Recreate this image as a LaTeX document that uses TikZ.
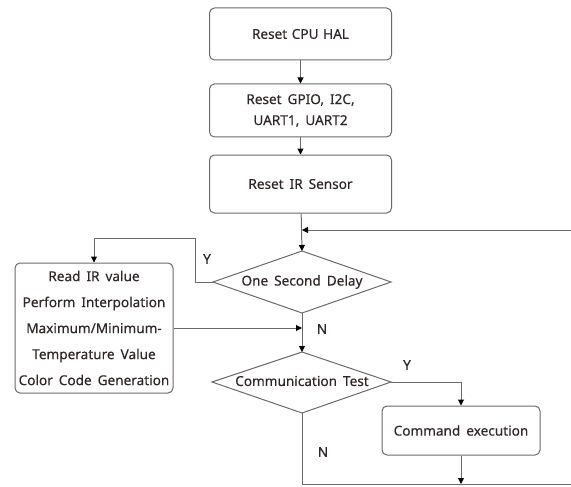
\documentclass[tikz,border=0pt]{standalone}
\usepackage{fontspec}
\setmainfont{Noto Sans}[WordSpace={1.3,0.5,0.3},FakeBold=0.3]
\usetikzlibrary{shapes.geometric,arrows.meta}
\definecolor{linegray}{HTML}{6A6A6A}
\definecolor{txt}{HTML}{302828}
\begin{document}
\begin{tikzpicture}[x=1pt,y=-1pt,
  every node/.style={text=txt,font=\fontsize{13.6}{16}\bfseries},
  procbox/.style={draw=linegray,line width=1pt,rounded corners=5pt,inner sep=0pt,align=center},
  decis/.style={draw=linegray,line width=1pt},
  conn/.style={draw=linegray,line width=1pt},
  arr/.style={conn,-{Triangle[length=6pt,width=6pt,color=black]}},
  lbl/.style={inner sep=0pt}]
\useasboundingbox (0,0) rectangle (571,487);
\fill[white] (0,0) rectangle (571,487);
\node[procbox,minimum width=182pt,minimum height=52pt] (b1) at (300.5,34) {Reset CPU HAL};
\node[procbox,minimum width=182pt,minimum height=53pt] (b2) at (300.5,110.5) {Reset GPIO, I2C,\\[5pt]UART1, UART2};
\node[procbox,minimum width=182pt,minimum height=58pt] (b3) at (300.5,184) {Reset IR Sensor};
\path[decis] (213,282) -- (302,251) -- (391,282) -- (302,313) -- cycle;
\coordinate (d1l) at (213,282); \coordinate (d1t) at (302,251); \coordinate (d1b) at (302,313); \coordinate (d1r) at (391,282);
\node[lbl] (d1) at (302,282) {One Second Delay};
\path[decis] (212,382) -- (302,352) -- (391,382) -- (302,413) -- cycle;
\coordinate (d2l) at (212,382); \coordinate (d2t) at (302,352); \coordinate (d2b) at (302,413); \coordinate (d2r) at (391,382);
\node[lbl] (d2) at (302,381) {Communication Test};
\node[procbox,minimum width=158pt,minimum height=130pt,font=\fontsize{13.6}{26}\bfseries] (lb) at (94,328) {Read IR value\\Perform Interpolation\\Maximum/Minimum-\\Temperature Value\\Color Code Generation};
\node[procbox,minimum width=158pt,minimum height=49pt] (ce) at (461,430.5) {Command execution};
\coordinate (m1) at (302,230);
\coordinate (rt) at (571,230);
\coordinate (m2) at (302,328);
\coordinate (bt) at (302,484);
\coordinate (br) at (571,484);
\coordinate (cb) at (461,484);
\draw[arr] (b1) -- (b2);
\draw[arr] (b2) -- (b3);
\draw[arr] (b3) -- (d1t);
\draw[arr] (rt) -- (m1);
\draw[arr] (d1l) -- (195,282) -- (195,238) -- (94,238) -- (lb.north);
\draw[arr] (lb.east |- m2) -- (m2);
\draw[arr] (d1b) -- (d2t);
\draw[arr] (d2r) -| (ce.north);
\draw[arr] (ce) -- (cb);
\draw[conn] (d2b) -- (bt) -- (br);
\node[lbl] (y1) at (207,259) {Y};
\node[lbl] (n1) at (322,329) {N};
\node[lbl] (y2) at (407,365) {Y};
\node[lbl] (n2) at (323,452) {N};
\end{tikzpicture}
\end{document}
